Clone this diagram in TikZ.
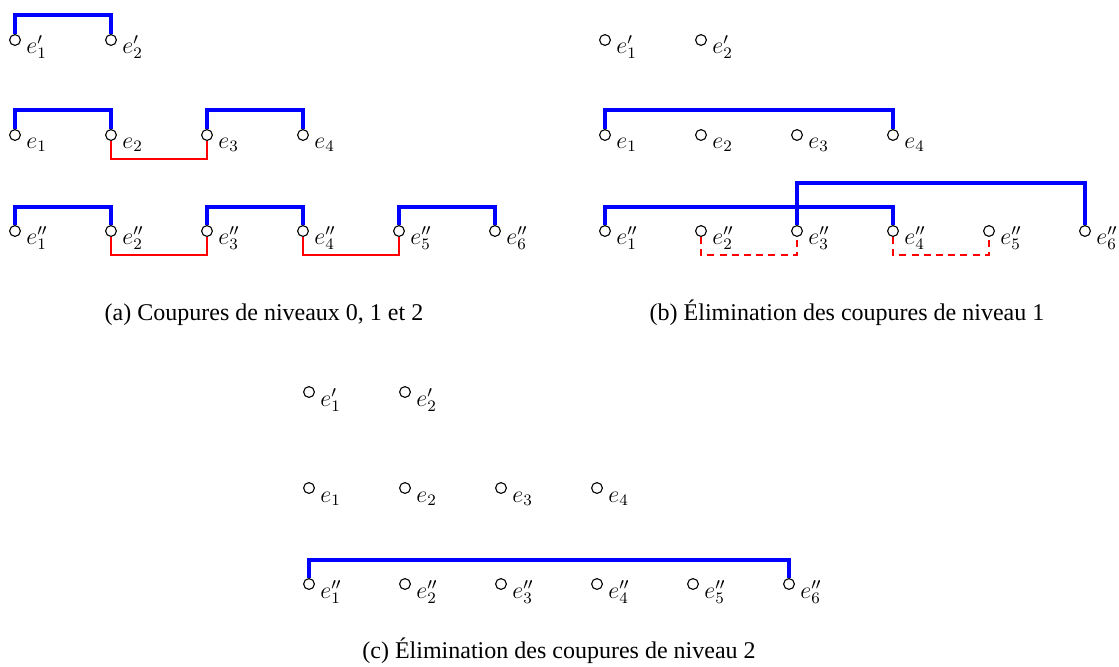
\documentclass[tikz,border=0pt]{standalone}
\usepackage{fontspec}
\setmainfont{Liberation Serif}
\usetikzlibrary{calc}
\begin{document}
\begin{tikzpicture}[x=0.5pt,y=-0.5pt,
  dotnode/.style={circle,draw=black,fill=white,line width=0.55pt,inner sep=0pt,minimum size=5.4pt},
  cutline/.style={draw=blue,line width=2.1pt,line join=miter},
  lnk/.style={draw=red,line width=0.55pt},
  lnkd/.style={lnk,dash pattern=on 3.5pt off 2.6pt},
  lab/.style={anchor=base west,inner sep=0pt,font=\fontsize{12}{14}\selectfont},
  captxt/.style={anchor=base,inner sep=0pt,font=\fontsize{12}{14}\selectfont}]
\useasboundingbox (0,0) rectangle (1119,666);
% ---------- (a)
\foreach \i in {1,2} {
  \node[dotnode] (a1\i) at ({15+96*(\i-1)},40) {};
  \node[lab] (la1\i) at ({26+96*(\i-1)},53) {$e'_{\i}$};
}
\foreach \i in {1,...,4} {
  \node[dotnode] (a2\i) at ({15+96*(\i-1)},135) {};
  \node[lab] (la2\i) at ({26+96*(\i-1)},148) {$e_{\i}$};
}
\foreach \i in {1,...,6} {
  \node[dotnode] (a3\i) at ({15+96*(\i-1)},231) {};
  \node[lab] (la3\i) at ({26+96*(\i-1)},244) {$e''_{\i}$};
}
\draw[cutline] (a11.north) -- ($(a11)+(0,-25)$) -| (a12.north);
\draw[cutline] (a21.north) -- ($(a21)+(0,-25)$) -| (a22.north);
\draw[cutline] (a23.north) -- ($(a23)+(0,-25)$) -| (a24.north);
\draw[lnk] (a22.south) -- ($(a22)+(0,24)$) -| (a23.south);
\draw[cutline] (a31.north) -- ($(a31)+(0,-24)$) -| (a32.north);
\draw[cutline] (a33.north) -- ($(a33)+(0,-24)$) -| (a34.north);
\draw[cutline] (a35.north) -- ($(a35)+(0,-24)$) -| (a36.north);
\draw[lnk] (a32.south) -- ($(a32)+(0,24)$) -| (a33.south);
\draw[lnk] (a34.south) -- ($(a34)+(0,24)$) -| (a35.south);
\node[captxt] (capa) at (264,320) {(a) Coupures de niveaux 0, 1 et 2};
% ---------- (b)
\foreach \i in {1,2} {
  \node[dotnode] (b1\i) at ({605+96*(\i-1)},40) {};
  \node[lab] (lb1\i) at ({616+96*(\i-1)},53) {$e'_{\i}$};
}
\foreach \i in {1,...,4} {
  \node[dotnode] (b2\i) at ({605+96*(\i-1)},135) {};
  \node[lab] (lb2\i) at ({616+96*(\i-1)},148) {$e_{\i}$};
}
\foreach \i in {1,...,6} {
  \node[dotnode] (b3\i) at ({605+96*(\i-1)},231) {};
  \node[lab] (lb3\i) at ({616+96*(\i-1)},244) {$e''_{\i}$};
}
\draw[cutline] (b21.north) -- ($(b21)+(0,-25)$) -| (b24.north);
\draw[cutline] (b31.north) -- ($(b31)+(0,-24)$) -| (b34.north);
\draw[cutline] (b33.north) -- ($(b33)+(0,-48)$) -| (b36.north);
\draw[lnkd] (b32.south) -- ($(b32)+(0,24)$) -| (b33.south);
\draw[lnkd] (b34.south) -- ($(b34)+(0,24)$) -| (b35.south);
\node[captxt] (capb) at (847,320) {(b) Élimination des coupures de niveau 1};
% ---------- (c)
\foreach \i in {1,2} {
  \node[dotnode] (c1\i) at ({309+96*(\i-1)},392) {};
  \node[lab] (lc1\i) at ({320+96*(\i-1)},406) {$e'_{\i}$};
}
\foreach \i in {1,...,4} {
  \node[dotnode] (c2\i) at ({309+96*(\i-1)},488) {};
  \node[lab] (lc2\i) at ({320+96*(\i-1)},502) {$e_{\i}$};
}
\foreach \i in {1,...,6} {
  \node[dotnode] (c3\i) at ({309+96*(\i-1)},584) {};
  \node[lab] (lc3\i) at ({320+96*(\i-1)},598) {$e''_{\i}$};
}
\draw[cutline] (c31.north) -- ($(c31)+(0,-24)$) -| (c36.north);
\node[captxt] (capc) at (559,658) {(c) Élimination des coupures de niveau 2};
\end{tikzpicture}
\end{document}
